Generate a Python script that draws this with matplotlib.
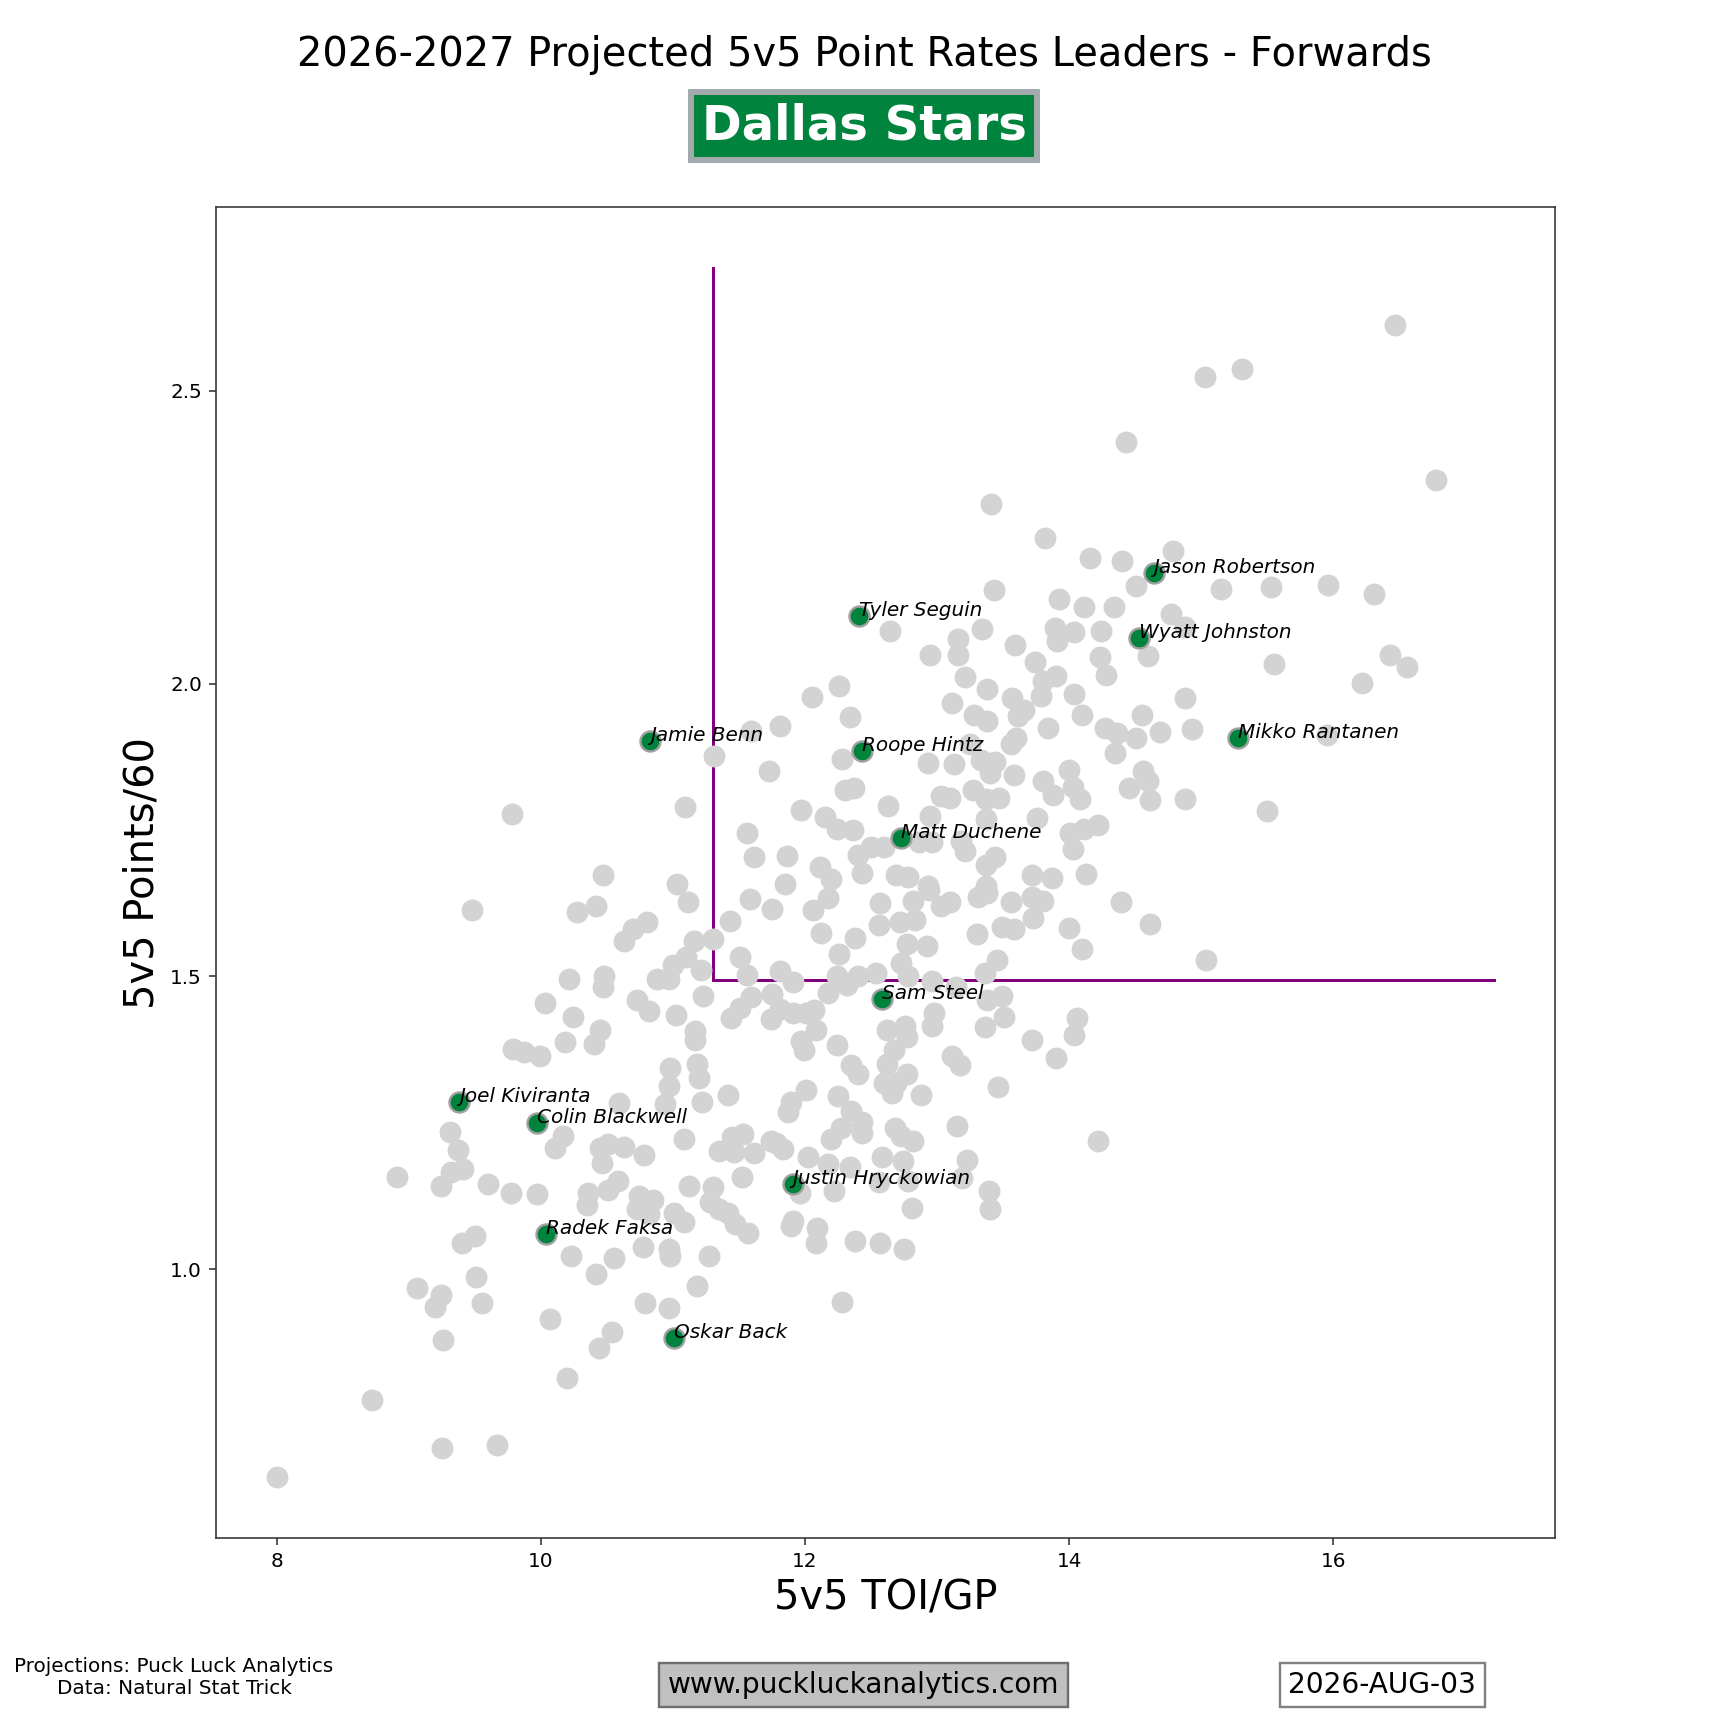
import matplotlib
matplotlib.use("Agg")
import matplotlib.pyplot as plt

# ---------------- data ----------------
title = "2026-2027 Projected 5v5 Point Rates Leaders - Forwards"
team_name = "Dallas Stars"
x_label = "5v5 TOI/GP"
y_label = "5v5 Points/60"
footer_left = "Projections: Puck Luck Analytics\nData: Natural Stat Trick"
footer_url = "www.puckluckanalytics.com"
footer_date = "2026-AUG-03"

# league-wide forwards (TOI/GP, Points/60)
league_pts = [
    (16.47, 2.612), (15.31, 2.537), (15.03, 2.524), (16.78, 2.348), (14.43, 2.412),
    (13.41, 2.307), (13.82, 2.249), (14.16, 2.214), (14.40, 2.209), (14.79, 2.227),
    (14.51, 2.166), (13.43, 2.159), (15.15, 2.162), (15.53, 2.165), (15.96, 2.168),
    (16.31, 2.153), (13.92, 2.144), (14.11, 2.130), (14.34, 2.130), (14.77, 2.119),
    (14.88, 2.097), (12.64, 2.090), (13.34, 2.093), (13.16, 2.076), (13.89, 2.094),
    (14.04, 2.088), (14.24, 2.090), (13.91, 2.073), (12.95, 2.049), (13.16, 2.049),
    (13.59, 2.065), (13.74, 2.036), (14.23, 2.045), (14.28, 2.014), (14.60, 2.047),
    (13.21, 2.012), (13.38, 1.991), (13.80, 2.004), (13.90, 2.013), (13.79, 1.979),
    (14.04, 1.982), (13.57, 1.975), (13.66, 1.955), (13.61, 1.944), (13.11, 1.967),
    (13.28, 1.947), (13.38, 1.936), (13.84, 1.924), (14.10, 1.947), (15.55, 2.033),
    (16.43, 2.049), (16.56, 2.029), (16.22, 2.001), (14.88, 1.975), (14.55, 1.947),
    (14.27, 1.924), (14.36, 1.916), (14.51, 1.907), (14.69, 1.917), (14.93, 1.922),
    (15.95, 1.912), (14.35, 1.881), (13.60, 1.907), (13.56, 1.896), (13.25, 1.896),
    (12.93, 1.864), (13.13, 1.862), (13.33, 1.870), (13.44, 1.866), (13.40, 1.847),
    (13.58, 1.844), (14.00, 1.853), (13.80, 1.834), (14.03, 1.823), (14.08, 1.803),
    (13.88, 1.809), (14.56, 1.851), (14.60, 1.833), (14.45, 1.821), (14.61, 1.801),
    (14.88, 1.803), (15.50, 1.782), (12.63, 1.790), (13.03, 1.808), (13.10, 1.805),
    (13.27, 1.818), (13.37, 1.803), (13.47, 1.804), (12.95, 1.773), (13.37, 1.769),
    (13.76, 1.771), (14.01, 1.744), (14.11, 1.751), (14.22, 1.758), (14.03, 1.718),
    (12.60, 1.721), (12.86, 1.729), (12.96, 1.729), (13.18, 1.731), (13.21, 1.714),
    (13.37, 1.690), (13.44, 1.704), (13.72, 1.673), (13.87, 1.667), (14.13, 1.675),
    (12.69, 1.673), (12.78, 1.669), (12.93, 1.655), (13.37, 1.655),
    (9.78, 1.777), (11.09, 1.789), (11.31, 1.876), (11.59, 1.919), (11.81, 1.927),
    (11.73, 1.850), (12.05, 1.977), (12.26, 1.996), (12.34, 1.943), (12.28, 1.871),
    (12.30, 1.818), (12.37, 1.821), (11.97, 1.784), (12.15, 1.772), (12.24, 1.752),
    (12.36, 1.750), (11.56, 1.744), (11.61, 1.703), (11.86, 1.705), (12.11, 1.687),
    (12.40, 1.707), (12.50, 1.721), (12.43, 1.677), (12.20, 1.666), (10.47, 1.673),
    (11.03, 1.658), (11.85, 1.658),
    (11.11, 1.626), (9.48, 1.613), (10.27, 1.609), (10.42, 1.620), (10.80, 1.592),
    (10.70, 1.580), (10.63, 1.560), (11.16, 1.561), (11.30, 1.564), (11.10, 1.533),
    (11.00, 1.520), (11.21, 1.511), (10.88, 1.496), (10.97, 1.495), (10.21, 1.495),
    (10.48, 1.500), (10.47, 1.481), (10.03, 1.455), (10.24, 1.431), (10.45, 1.409),
    (10.40, 1.385), (10.18, 1.387), (10.73, 1.460), (10.82, 1.440), (11.02, 1.433),
    (11.23, 1.466), (11.17, 1.407), (11.17, 1.392), (9.79, 1.376), (9.87, 1.371),
    (9.99, 1.363), (10.98, 1.344), (11.18, 1.351), (11.20, 1.326), (10.97, 1.313),
    (10.94, 1.281), (11.22, 1.285), (11.42, 1.298), (10.59, 1.283), (9.31, 1.234),
    (9.37, 1.203), (9.32, 1.166), (9.41, 1.170), (9.24, 1.142), (8.91, 1.158),
    (9.60, 1.146), (9.77, 1.129), (9.97, 1.128), (10.17, 1.228), (10.11, 1.207),
    (10.45, 1.207), (10.51, 1.213), (10.63, 1.209), (10.78, 1.194), (10.46, 1.181),
    (10.58, 1.151), (10.51, 1.135), (10.36, 1.129), (10.35, 1.109), (10.74, 1.124),
    (10.85, 1.118), (10.73, 1.103), (10.82, 1.094), (11.12, 1.142), (11.30, 1.140),
    (11.28, 1.114), (11.35, 1.103), (11.42, 1.096), (11.47, 1.077), (11.57, 1.062),
    (11.01, 1.096), (11.08, 1.080), (11.52, 1.157), (11.08, 1.222), (11.35, 1.201),
    (11.45, 1.226), (11.53, 1.231), (11.46, 1.200), (11.61, 1.198), (11.74, 1.218),
    (11.78, 1.216), (11.83, 1.205), (11.87, 1.268), (11.89, 1.285), (12.01, 1.305),
    (12.02, 1.191), (12.17, 1.179), (12.34, 1.174), (12.25, 1.296), (12.20, 1.222),
    (12.27, 1.240), (12.35, 1.270), (12.43, 1.251), (12.43, 1.233), (12.58, 1.191),
    (12.22, 1.133), (12.56, 1.148), (11.96, 1.129), (11.91, 1.082), (11.89, 1.074),
    (12.09, 1.070), (12.08, 1.044), (12.38, 1.048), (12.57, 1.045), (12.75, 1.034),
    (9.50, 1.057), (9.40, 1.044), (10.23, 1.023), (10.55, 1.018), (10.77, 1.038),
    (10.97, 1.035), (10.98, 1.022), (11.27, 1.023), (10.42, 0.992), (11.18, 0.971),
    (12.28, 0.944), (9.51, 0.987), (9.06, 0.968), (9.24, 0.955), (9.20, 0.935),
    (9.55, 0.942), (10.79, 0.942), (10.97, 0.933), (10.07, 0.914), (9.26, 0.879),
    (10.54, 0.892), (10.44, 0.865), (10.20, 0.813), (8.72, 0.776), (9.25, 0.695),
    (9.67, 0.699), (8.00, 0.644),
    (11.58, 1.632), (11.75, 1.615), (12.06, 1.613), (12.17, 1.633), (12.12, 1.574),
    (12.38, 1.565), (12.26, 1.538), (12.56, 1.588), (12.57, 1.625), (11.43, 1.594),
    (11.51, 1.533), (11.56, 1.503), (11.81, 1.509), (11.91, 1.490),
    (11.59, 1.465), (11.75, 1.470), (11.51, 1.446), (11.44, 1.428), (11.74, 1.427),
    (11.81, 1.444), (11.91, 1.437), (12.01, 1.437), (12.07, 1.443), (12.17, 1.472),
    (12.32, 1.485), (12.24, 1.500), (12.40, 1.500), (12.54, 1.505), (12.08, 1.409),
    (11.97, 1.389), (11.99, 1.374), (12.24, 1.383), (12.35, 1.348), (12.40, 1.333),
    (12.62, 1.408), (12.67, 1.374), (12.62, 1.351), (12.60, 1.318), (12.66, 1.301),
    (12.94, 1.647), (12.82, 1.629), (13.03, 1.620), (13.10, 1.626), (13.31, 1.635),
    (13.38, 1.643), (13.56, 1.626), (13.72, 1.635), (13.80, 1.629), (13.73, 1.600),
    (13.58, 1.581), (13.49, 1.585), (14.00, 1.583), (14.10, 1.546), (14.39, 1.627),
    (14.61, 1.589), (15.04, 1.527), (12.72, 1.592), (12.83, 1.596), (13.30, 1.572),
    (12.77, 1.555), (12.92, 1.552), (12.73, 1.523), (12.78, 1.500), (12.96, 1.492),
    (13.36, 1.506), (13.45, 1.527), (13.14, 1.481), (13.38, 1.460), (13.49, 1.466),
    (12.98, 1.438), (12.96, 1.415), (13.36, 1.413), (13.51, 1.431), (12.76, 1.415),
    (12.77, 1.396), (12.77, 1.333), (12.69, 1.318), (12.88, 1.298), (13.11, 1.363),
    (13.17, 1.348), (13.46, 1.311), (13.72, 1.392), (13.90, 1.361), (14.06, 1.428),
    (14.04, 1.400), (12.68, 1.240), (12.82, 1.218), (12.73, 1.228), (13.15, 1.244),
    (14.22, 1.218), (12.74, 1.185), (13.23, 1.186), (13.19, 1.155), (12.78, 1.151),
    (13.39, 1.134), (13.40, 1.103), (12.81, 1.105),
]
league_toi = [p[0] for p in league_pts]
league_p60 = [p[1] for p in league_pts]

# team forwards
team_players = ["Jason Robertson", "Wyatt Johnston", "Mikko Rantanen", "Tyler Seguin",
                "Jamie Benn", "Roope Hintz", "Matt Duchene", "Sam Steel",
                "Joel Kiviranta", "Colin Blackwell", "Justin Hryckowian",
                "Radek Faksa", "Oskar Back"]
team_toi = [14.64, 14.53, 15.28, 12.405, 10.826, 12.43, 12.73, 12.586,
            9.382, 9.967, 11.907, 10.036, 11.011]
team_p60 = [2.188, 2.077, 1.907, 2.116, 1.901, 1.884, 1.736, 1.461,
            1.286, 1.249, 1.145, 1.059, 0.883]

# quadrant guide lines
line_x_toi = 11.30
line_y_p60 = 1.493
line_top_p60 = 2.71
line_right_toi = 17.22

# ---------------- style ----------------
GREEN = "#00843D"
SILVER = "#A2AAAD"

plt.rcParams["font.family"] = ["DejaVu Sans"]
plt.rcParams["axes.edgecolor"] = "#333333"
plt.rcParams["xtick.color"] = "#333333"
plt.rcParams["ytick.color"] = "#333333"
plt.rcParams["xtick.labelcolor"] = "black"
plt.rcParams["ytick.labelcolor"] = "black"

fig = plt.figure(figsize=(12, 12), dpi=144)
ax = fig.add_subplot(111)

ax.scatter(league_toi, league_p60, s=120, color="#D3D3D3", linewidths=0, zorder=2)
ax.scatter(team_toi, team_p60, s=100, color=GREEN, edgecolors="#a0a0a0",
           linewidths=1.2, zorder=3)
for name, tx, ty in zip(team_players, team_toi, team_p60):
    ax.text(tx, ty, name, fontsize=10, style="italic", ha="left", va="baseline", zorder=4)

ax.plot([line_x_toi, line_x_toi], [line_y_p60, line_top_p60], color="#800080", lw=1.5, zorder=1)
ax.plot([line_x_toi, line_right_toi], [line_y_p60, line_y_p60], color="#800080", lw=1.5, zorder=1)

ax.set_xlabel(x_label, fontsize=20)
ax.set_ylabel(y_label, fontsize=20)
ax.set_xticks([8, 10, 12, 14, 16])
ax.set_yticks([1.0, 1.5, 2.0, 2.5])

fig.text(0.5, 0.962, title, ha="center", va="baseline", fontsize=20)
fig.text(0.5, 0.9194, team_name, ha="center", va="baseline", fontsize=24,
         fontweight="bold", color="white",
         bbox=dict(boxstyle="square,pad=0.22", fc=GREEN, ec=SILVER, lw=3))

fig.text(0.1007, 0.0295, footer_left, ha="center", va="center", fontsize=10,
         multialignment="center")
fig.text(0.4997, 0.0249, footer_url, ha="center", va="center", fontsize=14,
         bbox=dict(boxstyle="square,pad=0.3", fc="#C0C0C0", ec="#6e6e6e", lw=1.2))
fig.text(0.800, 0.0249, footer_date, ha="center", va="center", fontsize=14,
         bbox=dict(boxstyle="square,pad=0.3", fc="white", ec="#808080", lw=1.2))

fig.savefig("out.png", dpi=144)
